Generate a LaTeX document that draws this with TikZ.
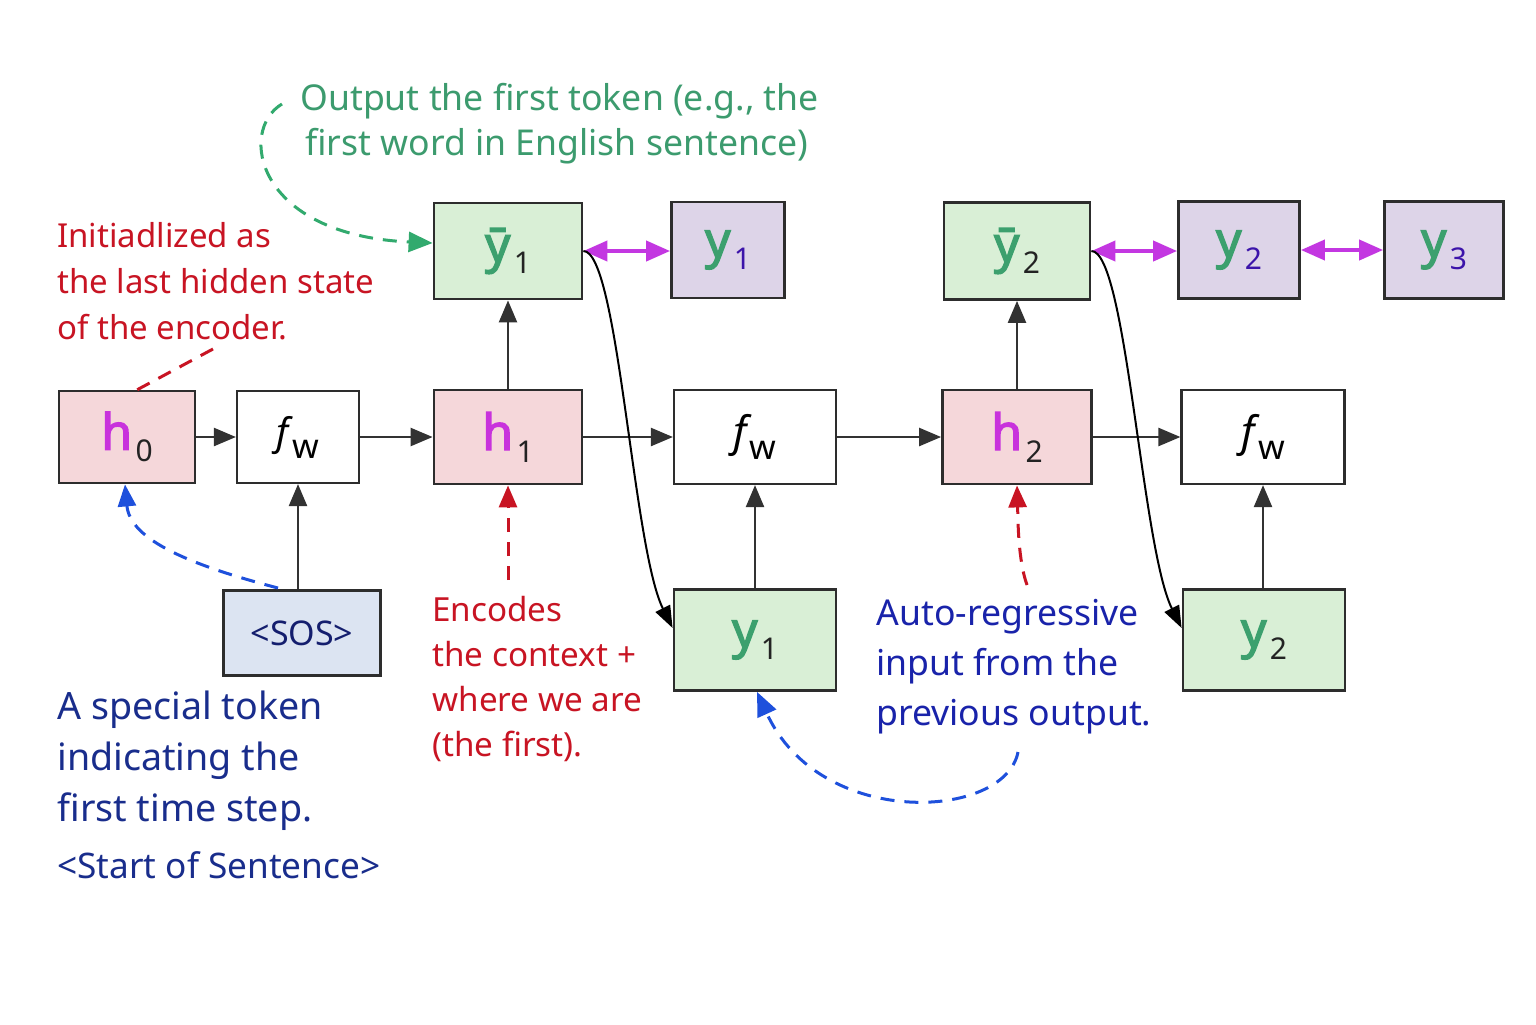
\documentclass[tikz,border=0pt]{standalone}
\usepackage{fontspec}
\setmainfont{Noto Sans}
\newfontfamily\labbold{Noto Sans}[FakeBold=2.5]
\usetikzlibrary{arrows.meta,calc}
\definecolor{boxline}{RGB}{45,45,45}
\definecolor{arrgray}{RGB}{50,50,50}
\definecolor{hfill}{RGB}{245,215,218}
\definecolor{gfill}{RGB}{217,239,214}
\definecolor{pfill}{RGB}{221,212,232}
\definecolor{sfill}{RGB}{220,228,242}
\definecolor{hmag}{RGB}{200,50,220}
\definecolor{magarr}{RGB}{195,55,225}
\definecolor{ygreen}{RGB}{60,160,110}
\definecolor{gtext}{RGB}{60,155,110}
\definecolor{gdashc}{RGB}{50,170,110}
\definecolor{subdark}{RGB}{35,35,35}
\definecolor{subpurp}{RGB}{60,20,170}
\definecolor{redt}{RGB}{200,20,35}
\definecolor{bluedark}{RGB}{25,45,140}
\definecolor{bluet}{RGB}{25,35,170}
\definecolor{bluedash}{RGB}{30,80,220}
\definecolor{sostext}{RGB}{20,30,110}
\newcommand{\hlab}[1]{{\labbold\fontsize{25}{25}\selectfont\color{hmag}h}\,\raisebox{-6pt}{\fontsize{15}{15}\selectfont\color{subdark}#1}}
\newcommand{\ybarlab}[1]{{\labbold\fontsize{25}{25}\selectfont\color{ygreen}\={y}}\,\raisebox{-6pt}{\fontsize{15}{15}\selectfont\color{subdark}#1}}
\newcommand{\ypurlab}[1]{{\labbold\fontsize{25}{25}\selectfont\color{ygreen}y}\,\raisebox{-6pt}{\fontsize{15}{15}\selectfont\color{subpurp}#1}}
\newcommand{\youtlab}[1]{{\labbold\fontsize{25}{25}\selectfont\color{ygreen}y}\,\raisebox{-6pt}{\fontsize{15}{15}\selectfont\color{subdark}#1}}
\newcommand{\fwlab}[1]{{\fontsize{#1}{#1}\selectfont\itshape f}\,\raisebox{-6.5pt}{\fontsize{17}{17}\selectfont w}}
\tikzset{
  box/.style={draw=boxline, line width=1.4pt, inner sep=0pt},
  hbox/.style={box, fill=hfill},
  gbox/.style={box, fill=gfill},
  pbox/.style={box, fill=pfill},
  wbox/.style={box, fill=white, line width=1.1pt},
  sbox/.style={box, fill=sfill},
  arr/.style={draw=arrgray, line width=1.2pt, -{Triangle[length=11pt,width=9pt]}, color=arrgray},
  curvearr/.style={draw=black, line width=1pt, -{Triangle[length=11pt,width=8pt]}},
  magdbl/.style={draw=magarr, line width=2pt, {Triangle[length=12pt,width=10pt]}-{Triangle[length=12pt,width=10pt]}, color=magarr},
  dashln/.style={line width=1.5pt, dash pattern=on 7pt off 5pt},
  lbl/.style={inner sep=0pt, anchor=north west, align=left, font=\fontsize{16.5}{23}\selectfont}
}
\begin{document}
\begin{tikzpicture}[x=0.5pt,y=-0.5pt]
\useasboundingbox (0,0) rectangle (1536,1024);
\fill[white] (0,0) rectangle (1536,1024);
% middle row
\node[hbox, minimum width=68pt, minimum height=46pt] (h0) at (127,437) {\hlab{0}};
\node[wbox, minimum width=61pt, minimum height=46pt] (fw1) at (298,437) {\fwlab{19}};
\node[hbox, minimum width=74pt, minimum height=47pt] (h1) at (508,437) {\hlab{1}};
\node[wbox, minimum width=81pt, minimum height=47pt] (fw2) at (755,437) {\fwlab{21}};
\node[hbox, minimum width=74.5pt, minimum height=47pt] (h2) at (1017,437) {\hlab{2}};
\node[wbox, minimum width=81.5pt, minimum height=47pt] (fw3) at (1263,437) {\fwlab{21}};
% top row
\node[gbox, minimum width=74pt, minimum height=48pt] (yb1) at (508,251) {\ybarlab{1}};
\node[pbox, minimum width=56.5pt, minimum height=48pt] (yp1) at (728,250) {\ypurlab{1}};
\node[gbox, minimum width=73pt, minimum height=48.5pt] (yb2) at (1017,251) {\ybarlab{2}};
\node[pbox, minimum width=60.5pt, minimum height=48.5pt] (yp2) at (1239,250) {\ypurlab{2}};
\node[pbox, minimum width=59.5pt, minimum height=48.5pt] (yp3) at (1444,250) {\ypurlab{3}};
% bottom row
\node[sbox, minimum width=78.5pt, minimum height=42.5pt, font=\fontsize{17}{17}\selectfont, text=sostext] (sos) at (302,633) {<SOS>};
\node[gbox, minimum width=81pt, minimum height=50.5pt] (yo1) at (755,640) {\youtlab{1}};
\node[gbox, minimum width=81pt, minimum height=50.5pt] (yo2) at (1264,640) {\youtlab{2}};
% horizontal arrows
\draw[arr] (h0.east) -- (fw1.west);
\draw[arr] (fw1.east) -- (h1.west);
\draw[arr] (h1.east) -- (fw2.west);
\draw[arr] (fw2.east) -- (h2.west);
\draw[arr] (h2.east) -- (fw3.west);
% vertical arrows
\draw[arr] (h1.north) -- (yb1.south);
\draw[arr] (h2.north) -- (yb2.south);
\draw[arr] (fw1.south |- sos.north) -- (fw1.south);
\draw[arr] (yo1.north) -- (fw2.south);
\draw[arr] (fw3.south |- yo2.north) -- (fw3.south);
% magenta double arrows
\draw[magdbl] (yb1.east) -- (yb1.east -| yp1.west);
\draw[magdbl] (yb2.east) -- (yb2.east -| yp2.west);
\draw[magdbl] (yp2.east) -- (yp3.west);
% curved feedback
\draw[curvearr] (yb1.east) .. controls +(35,0) and +(-40,-80) .. ($(yo1.west)+(0,-12)$);
\draw[curvearr] (yb2.east) .. controls +(35,0) and +(-40,-80) .. ($(yo2.west)+(0,-12)$);
% annotation coordinates
\coordinate (gstart) at (282,104);
\coordinate (rstart) at (213,349);
\coordinate (rend) at (133,392);
\coordinate (bstart) at (278,588);
\coordinate (r1start) at (508,580);
\coordinate (r2start) at (1027,585);
\coordinate (b2start) at (1018,752);
% dashed annotations
\draw[dashln, draw=gdashc, -{Triangle[length=12pt,width=10pt]}, color=gdashc] (gstart) .. controls (238,130) and (255,235) .. ($(yb1.west)+(0,-8)$);
\draw[dashln, draw=redt] (rstart) -- (rend);
\draw[dashln, draw=bluedash, -{Triangle[length=11pt,width=9pt]}, color=bluedash] (bstart) .. controls (190,565) and (130,540) .. ($(h0.south)+(-2,0)$);
\draw[dashln, draw=redt, -{Triangle[length=11pt,width=9pt]}, color=redt] (r1start) -- (h1.south);
\draw[dashln, draw=redt, -{Triangle[length=11pt,width=9pt]}, color=redt] (r2start) .. controls (1018,560) and (1018,520) .. (h2.south);
\draw[dashln, draw=bluedash, -{Triangle[length=12pt,width=10pt]}, color=bluedash] (b2start) .. controls (1005,820) and (820,830) .. ($(yo1.south)+(2,0)$);
% texts
\node[lbl, text=gtext, font=\fontsize{17.8}{22.5}\selectfont] (tg) at (300,83) {Output the first token (e.g., the\\\hspace*{2.5pt}first word in English sentence)};
\node[lbl, text=redt] (tr1) at (57,222) {Initiadlized as\\the last hidden state\\of the encoder.};
\node[lbl, text=bluedark, font=\fontsize{18.8}{25.5}\selectfont] (tb1) at (57,691) {A special token\\indicating the\\first time step.};
\node[lbl, text=bluedark, font=\fontsize{17.6}{17.6}\selectfont] (tb2) at (57,851) {<Start of Sentence>};
\node[lbl, text=redt, font=\fontsize{16.6}{22.5}\selectfont] (tr2) at (432,596) {Encodes\\the context +\\where we are\\(the first).};
\node[lbl, text=bluet, font=\fontsize{17.8}{25}\selectfont] (tb3) at (876,599) {Auto-regressive\\input from the\\previous output.};
\end{tikzpicture}
\end{document}
